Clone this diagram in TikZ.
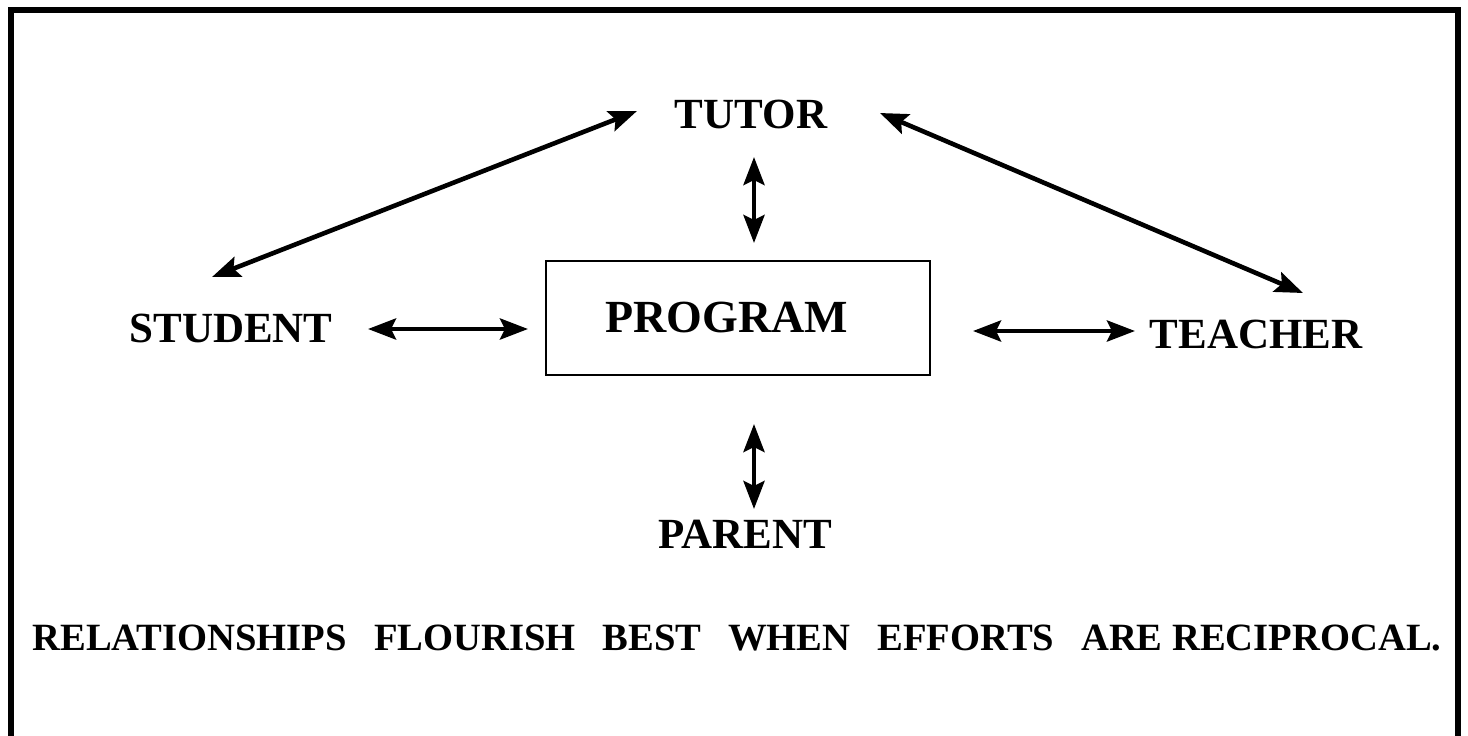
\documentclass[tikz,border=0pt]{standalone}
\usepackage{fontspec}
\setmainfont{Liberation Serif}
\usetikzlibrary{arrows.meta}
\tikzset{
  x=0.5pt, y=-0.5pt,
  lbl/.style={font=\fontsize{21.5pt}{24pt}\selectfont\bfseries, anchor=base, inner sep=0pt},
  foot/.style={font=\fontsize{19.3pt}{22pt}\selectfont\bfseries, anchor=base, inner sep=0pt},
  link/.style={line width=2.3pt, {Stealth[length=14pt,width=10.5pt,inset=2.5pt]}-{Stealth[length=14pt,width=10.5pt,inset=2.5pt]}},
  frame/.style={line width=3pt},
  progbox/.style={draw, line width=1pt, minimum width=192pt, minimum height=57pt, inner sep=0pt,
    font=\fontsize{23pt}{25pt}\selectfont\bfseries}
}
\begin{document}
\begin{tikzpicture}
\useasboundingbox (0,0) rectangle (1468,735);
\draw[frame] (11,740) -- (11,10) -- (1458,10) -- (1458,740);

\node[lbl] (tutor) at (751,128) {TUTOR};
\node[lbl] (student) at (231,342) {STUDENT};
\node[lbl] (teacher) at (1256,348) {TEACHER};
\node[lbl] (parent) at (745,548) {PARENT};
\node[progbox] (program) at (737.5,317.5) {PROGRAM\kern11pt};
\node[foot] (motto) at (737,650) {RELATIONSHIPS\hspace{13.5pt}FLOURISH\hspace{13.5pt}BEST\hspace{13.5pt}WHEN\hspace{13.5pt}EFFORTS\hspace{13.5pt}ARE RECIPROCAL.};

\coordinate (st) at (212,277);
\coordinate (ts) at (637,111);
\coordinate (tt) at (880,113);
\coordinate (te) at (1303,293);
\coordinate (tp1) at (754,157);
\coordinate (tp2) at (754,243);
\coordinate (sp1) at (368,329);
\coordinate (sp2) at (528,329);
\coordinate (pt1) at (973,331);
\coordinate (pt2) at (1135,331);
\coordinate (pp1) at (754,424);
\coordinate (pp2) at (754,509);

\draw[link] (st) -- (ts);
\draw[link] (tt) -- (te);
\draw[link] (tp1) -- (tp2);
\draw[link] (sp1) -- (sp2);
\draw[link] (pt1) -- (pt2);
\draw[link] (pp1) -- (pp2);
\end{tikzpicture}
\end{document}
